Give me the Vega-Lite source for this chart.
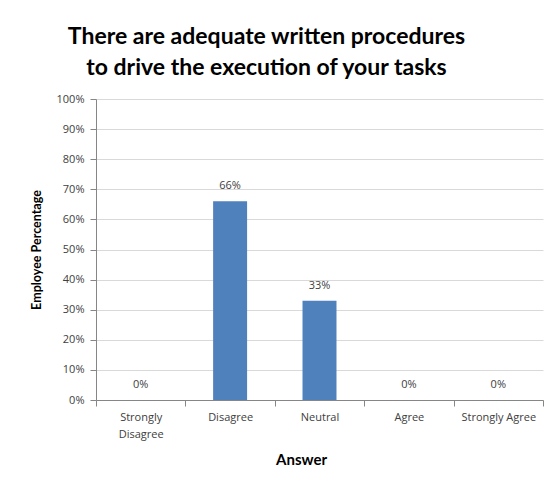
{
  "$schema": "https://vega.github.io/schema/vega-lite/v6.json",
  "width": 447,
  "height": 301,
  "autosize": "none",
  "padding": {"left": 96, "top": 99, "right": 10, "bottom": 85},
  "background": "white",
  "title": {
    "text": ["There are adequate written procedures", "to drive the execution of your tasks"],
    "font": "Lato",
    "fontSize": 23,
    "fontWeight": "bold",
    "color": "#000000",
    "lineHeight": 31,
    "anchor": "middle",
    "frame": "group",
    "dx": -53,
    "offset": 13
  },
  "data": {
    "values": [
      {"answer": "Strongly Disagree", "pct": 0},
      {"answer": "Disagree", "pct": 0.66},
      {"answer": "Neutral", "pct": 0.33},
      {"answer": "Agree", "pct": 0},
      {"answer": "Strongly Agree", "pct": 0}
    ]
  },
  "encoding": {
    "x": {
      "field": "answer",
      "type": "nominal",
      "sort": null,
      "scale": {"paddingInner": 0, "paddingOuter": 0},
      "axis": {
        "title": "Answer",
        "titleFont": "Lato",
        "titleFontSize": 15,
        "titleFontWeight": "bold",
        "titleColor": "#000000",
        "titleX": 205,
        "titlePadding": 13,
        "labelAngle": 0,
        "labelFont": "Open Sans",
        "labelFontSize": 11,
        "labelColor": "#404040",
        "labelPadding": 5,
        "labelLineHeight": 17,
        "labelExpr": "datum.label == 'Strongly Disagree' ? ['Strongly', 'Disagree'] : datum.label",
        "tickBand": "extent",
        "tickColor": "#868686",
        "tickSize": 6,
        "domainColor": "#868686",
        "grid": false
      }
    },
    "y": {
      "field": "pct",
      "type": "quantitative",
      "scale": {"domain": [0, 1]},
      "axis": {
        "title": "Employee Percentage",
        "titleFont": "Lato",
        "titleFontSize": 12.5,
        "titleFontWeight": "bold",
        "titleColor": "#000000",
        "titlePadding": 13,
        "format": ".0%",
        "values": [0, 0.1, 0.2, 0.3, 0.4, 0.5, 0.6, 0.7, 0.8, 0.9, 1],
        "labelFont": "Open Sans",
        "labelFontSize": 11,
        "labelColor": "#404040",
        "labelPadding": 6,
        "tickColor": "#868686",
        "tickSize": 6,
        "domainColor": "#868686",
        "gridColor": "#D9D9D9",
        "grid": true
      }
    }
  },
  "layer": [
    {
      "mark": {"type": "bar", "color": "#4F81BD", "width": {"band": 0.38}}
    },
    {
      "mark": {"type": "text", "font": "Open Sans", "fontSize": 11, "color": "#404040", "baseline": "middle", "dy": -15},
      "encoding": {
        "text": {"field": "pct", "type": "quantitative", "format": ".0%"}
      }
    }
  ],
  "config": {
    "view": {"stroke": null}
  }
}
